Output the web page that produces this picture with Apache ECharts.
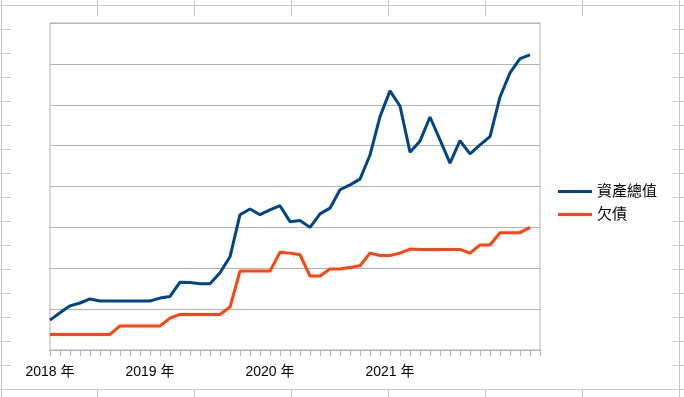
<!DOCTYPE html>
<html>
<head>
<meta charset="utf-8">
<title>資產總值 / 欠債</title>
<script src="https://cdn.jsdelivr.net/npm/echarts@6/dist/echarts.min.js"></script>
<style>
  html, body { margin: 0; padding: 0; background: #fff; }
  #chart { width: 684px; height: 397px; }
</style>
</head>
<body>
<div id="chart"></div>
<script>
// monthly points, the last slot stays empty like in the sheet
const months = [
  '2018-03', '2018-04', '2018-05', '2018-06', '2018-07', '2018-08', '2018-09', '2018-10', '2018-11', '2018-12',
  '2019-01', '2019-02', '2019-03', '2019-04', '2019-05', '2019-06', '2019-07', '2019-08', '2019-09', '2019-10', '2019-11', '2019-12',
  '2020-01', '2020-02', '2020-03', '2020-04', '2020-05', '2020-06', '2020-07', '2020-08', '2020-09', '2020-10', '2020-11', '2020-12',
  '2021-01', '2021-02', '2021-03', '2021-04', '2021-05', '2021-06', '2021-07', '2021-08', '2021-09', '2021-10', '2021-11', '2021-12',
  '2022-01', '2022-02', '2022-03', '2022-04'
];
const yearTicks = ['2018-03', '2019-01', '2020-01', '2021-01'];
const yearText = ['2018 年', '2019 年', '2020 年', '2021 年'];

const totalAssets = [
  73, 91, 108, 115, 125, 120, 120, 120, 120, 120,
  120, 127, 131, 166, 165, 162, 162, 189, 228, 331, 345, 331,
  343, 353, 314, 317, 300, 333, 347, 392, 404, 418, 477, 571,
  634, 597, 484, 511, 570, 514, 457, 512, 480, 502, 522, 619,
  678, 713, 722
];
const debt = [
  38, 38, 38, 38, 38, 38, 38, 59, 59, 59,
  59, 59, 78, 87, 87, 87, 87, 87, 105, 193, 193, 193,
  193, 239, 237, 233, 181, 181, 198, 198, 202, 206, 237, 231,
  231, 237, 247, 246, 246, 246, 246, 246, 237, 257, 257, 287,
  287, 287, 300
];

// spreadsheet cells peeking out around the chart object
const cellLine = { stroke: '#c6c6c6', lineWidth: 1 };
const bg = [];
const colX = [1.5, 97.5, 194.5, 291.5, 388.5, 485.5, 582.5, 679.5];
for (let y = 5.5; y < 397; y += 24) {
  bg.push({ type: 'line', shape: { x1: 0, y1: y, x2: 684, y2: y }, style: cellLine, z: -20 });
}
colX.forEach(function (x) {
  bg.push({ type: 'line', shape: { x1: x, y1: 0, x2: x, y2: 397 }, style: cellLine, z: -20 });
});
bg.push({
  type: 'rect', shape: { x: 11, y: 16, width: 661, height: 373 },
  style: { fill: '#fff' }, z: -10
});

const chart = echarts.init(document.getElementById('chart'));
chart.setOption({
  animation: false,
  backgroundColor: '#fff',
  textStyle: { fontFamily: '"Liberation Sans", "Noto Sans CJK TC", sans-serif' },
  graphic: { elements: bg },
  grid: {
    left: 50, top: 23, right: 144, bottom: 47,
    show: true, borderColor: '#b3b3b3', borderWidth: 1
  },
  legend: {
    orient: 'vertical',
    left: 553, top: 179,
    itemWidth: 34, itemHeight: 3, itemGap: 8,
    icon: 'rect',
    textStyle: { fontSize: 15, color: '#000' },
    data: ['資產總值', '欠債']
  },
  xAxis: {
    type: 'category',
    data: months,
    boundaryGap: false,
    axisLine: { lineStyle: { color: '#b3b3b3' } },
    axisTick: { show: true, interval: 0, length: 6, lineStyle: { color: '#b3b3b3' } },
    axisLabel: {
      interval: function (i, v) { return yearTicks.indexOf(v) >= 0; },
      formatter: function (v) { return yearText[yearTicks.indexOf(v)]; },
      color: '#000', fontSize: 14, margin: 15
    },
    splitLine: { show: false }
  },
  yAxis: {
    type: 'value',
    min: 0, max: 800, interval: 100,
    axisLine: { show: false },
    axisTick: { show: false },
    axisLabel: { show: false },
    splitLine: { lineStyle: { color: '#b3b3b3', width: 1 } }
  },
  series: [
    {
      name: '資產總值', type: 'line', data: totalAssets,
      showSymbol: false, color: '#004586',
      lineStyle: { width: 3, color: '#004586' }
    },
    {
      name: '欠債', type: 'line', data: debt,
      showSymbol: false, color: '#ff420e',
      lineStyle: { width: 3, color: '#ff420e' }
    }
  ]
});
</script>
</body>
</html>
